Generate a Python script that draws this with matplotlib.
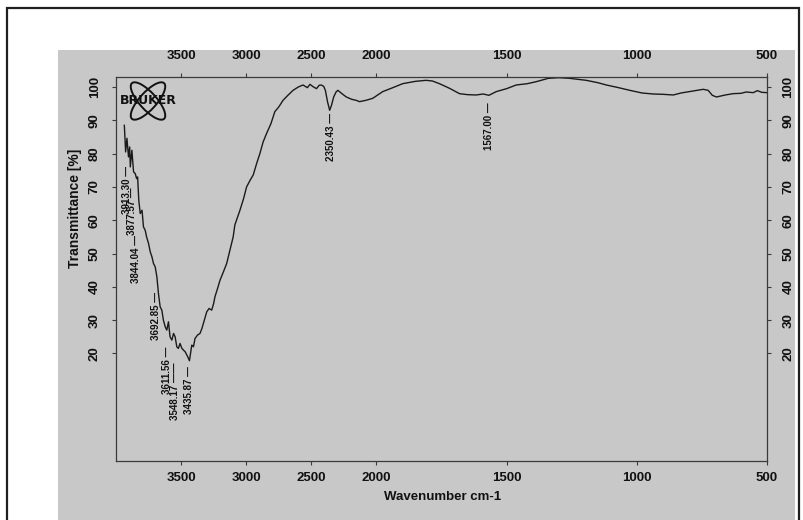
import numpy as np
import matplotlib
matplotlib.use("Agg")
import matplotlib.pyplot as plt
from matplotlib.patches import Rectangle, Ellipse

# ---------------- data ----------------
wavenumber = [3936, 3926, 3916, 3904, 3895, 3890, 3878, 3865, 3852, 3842,
              3834, 3825, 3814, 3800, 3789, 3776, 3765, 3750, 3737, 3724,
              3712, 3699, 3686, 3674, 3661, 3648, 3636, 3622, 3610, 3597,
              3585, 3571, 3558, 3546, 3533, 3521, 3508, 3495, 3482, 3469,
              3449, 3436, 3418, 3405, 3393, 3374, 3355, 3340, 3329, 3303,
              3285, 3265, 3250, 3240, 3220, 3201, 3175, 3150, 3125, 3100,
              3087, 3048, 3020, 2997, 2970, 2946, 2920, 2895, 2870, 2844,
              2810, 2780, 2750, 2717, 2680, 2640, 2600, 2564, 2530, 2510,
              2487, 2460, 2440, 2423, 2405, 2392, 2375, 2359, 2345, 2328,
              2310, 2296, 2265, 2231, 2190, 2155, 2130, 2080, 2028, 1976,
              1940, 1899, 1850, 1809, 1785, 1758, 1719, 1681, 1650, 1617,
              1590, 1568, 1540, 1500, 1463, 1420, 1386, 1340, 1300, 1258,
              1194, 1150, 1117, 1070, 1027, 980, 937, 900, 860, 830,
              800, 770, 745, 726, 710, 694, 660, 630, 600, 580,
              553, 537, 520, 501]
transmittance = [88.5, 80.5, 84.6, 79.0, 82.0, 76.0, 81.0, 74.5, 74.0, 72.5,
                 73.0, 66.0, 62.0, 63.0, 58.0, 57.0, 55.0, 53.0, 50.5, 49.0,
                 47.0, 46.0, 43.0, 38.0, 34.0, 33.0, 30.0, 28.0, 27.0, 29.5,
                 25.0, 24.0, 26.0, 25.0, 22.0, 21.5, 23.0, 21.6, 21.0, 20.5,
                 19.0, 17.8, 22.5, 22.0, 24.5, 25.5, 26.0, 27.5, 29.0, 32.5,
                 33.5, 33.0, 35.0, 37.0, 39.5, 42.0, 44.5, 47.0, 51.0, 55.0,
                 58.6, 63.0, 66.5, 70.0, 72.0, 73.6, 77.0, 80.0, 83.5, 86.0,
                 89.0, 92.6, 94.0, 96.0, 97.5, 99.0, 100.0, 100.6, 99.8, 100.8,
                 100.1, 99.5, 100.5, 100.6, 100.2, 99.0, 95.5, 93.0, 94.5, 97.0,
                 98.5, 99.0, 98.0, 97.0, 96.3, 96.0, 95.6, 96.0, 96.6, 98.6,
                 99.7, 101.0, 101.7, 102.0, 101.8, 101.0, 99.6, 98.0, 97.7, 97.6,
                 97.9, 97.5, 98.6, 99.5, 100.6, 101.0, 101.6, 102.6, 102.8, 102.6,
                 102.0, 101.3, 100.6, 99.8, 99.0, 98.2, 97.9, 97.8, 97.6, 98.2,
                 98.6, 99.0, 99.3, 99.0, 97.5, 97.0, 97.6, 98.0, 98.1, 98.5,
                 98.3, 98.9, 98.4, 98.3]

peak_wavenumbers = [3913.30, 3877.57, 3844.04, 3692.85, 3611.56,
                    3548.17, 3435.87, 2350.43, 1567.00]
x_ticks = [3500, 3000, 2500, 2000, 1500, 1000, 500]
y_ticks = [20, 30, 40, 50, 60, 70, 80, 90, 100]
x_label = "Wavenumber cm-1"
y_label = "Transmittance [%]"
logo_text = "BRUKER"

# ---------------- styling / layout ----------------
W, H = 804, 520
FONT = ["Liberation Sans", "DejaVu Sans"]
plt.rcParams["font.family"] = FONT
TXT = "#111111"
SPINE = "#3a3a3a"
# label offsets (points below the curve) and dash length for each peak label
label_offsets = [17, 26, 41, 15, 12, 19, 4, 4, 5]
label_dashes = [1, 1, 1, 1, 1, 2, 1, 1, 1]


def fwd(w):
    w = np.asarray(w, dtype=float)
    return np.where(w >= 2000, w, 2 * w - 2000)


def inv(v):
    v = np.asarray(v, dtype=float)
    return np.where(v >= 2000, v, (v + 2000) / 2)


fig = plt.figure(figsize=(W / 100, H / 100), dpi=100)
fig.patch.set_facecolor("white")

# scanned page background and outer frame
fig.patches.append(Rectangle((58 / W, 0), (795 - 58) / W, (H - 50) / H,
                             transform=fig.transFigure, facecolor="#c8c8c8",
                             edgecolor="none", zorder=-3))
fig.patches.append(Rectangle((7 / W, -0.02), (799 - 7) / W, (H - 8) / H + 0.02,
                             transform=fig.transFigure, facecolor="none",
                             edgecolor="#202020", linewidth=1.6, zorder=-2))

ax_l, ax_r, ax_t, ax_b = 116, 767, 77, 461
ax = fig.add_axes([ax_l / W, 1 - ax_b / H, (ax_r - ax_l) / W, (ax_b - ax_t) / H])
ax.set_facecolor("none")
ax.set_xscale("function", functions=(fwd, inv))
ax.set_xlim(4000, 500)
ax.set_ylim(-12.3, 103)

ax.plot(wavenumber, transmittance, color="#1a1a1a", linewidth=1.0)

for s in ax.spines.values():
    s.set_color(SPINE)
    s.set_linewidth(0.9)

ax.set_xticks(x_ticks)
ax.set_xticklabels([str(t) for t in x_ticks])
ax.xaxis.set_minor_locator(matplotlib.ticker.NullLocator())
ax.tick_params(axis="x", direction="out", length=3, width=0.8, color=SPINE,
               pad=5, labelsize=9.5, labelcolor=TXT)
for lab in ax.get_xticklabels():
    lab.set_fontweight("bold")

ax.set_yticks(y_ticks)
ax.set_yticklabels([str(t) for t in y_ticks])
ax.yaxis.set_minor_locator(matplotlib.ticker.NullLocator())
ax.tick_params(axis="y", direction="out", length=3, width=0.8, color=SPINE,
               pad=8, labelsize=9.5, labelcolor=TXT, right=True, labelright=True,
               labelrotation=90)
for t in ax.yaxis.get_major_ticks():
    t.label1.set_fontweight("bold")
    t.label2.set_fontweight("bold")
    t.label1.set_va("center")
    t.label2.set_va("center")
    t.label2.set_ha("left")

# top axis with the same wavenumber scale
ax2 = ax.twiny()
ax2.set_xscale("function", functions=(fwd, inv))
ax2.set_xlim(ax.get_xlim())
ax2.set_xticks(x_ticks)
ax2.set_xticklabels([str(t) for t in x_ticks])
ax2.xaxis.set_minor_locator(matplotlib.ticker.NullLocator())
ax2.tick_params(axis="x", direction="out", length=3, width=0.8, color=SPINE,
                pad=8, labelsize=9.5, labelcolor=TXT)
for lab in ax2.get_xticklabels():
    lab.set_fontweight("bold")
for s in ax2.spines.values():
    s.set_visible(False)

# axis titles
fig.text(443 / W, 1 - 497 / H, x_label, ha="center", va="center",
         fontsize=9.5, color=TXT, fontweight="bold")
fig.text(75 / W, 1 - 208 / H, y_label, ha="center", va="center",
         rotation=90, fontsize=10, color=TXT, fontweight="bold")

# peak labels
xs = np.array(wavenumber[::-1], dtype=float)
ys = np.array(transmittance[::-1], dtype=float)
for w, off, nd in zip(peak_wavenumbers, label_offsets, label_dashes):
    tv = np.interp(w, xs, ys)
    ax.annotate(f"{w:.2f} " + "\u2014" * nd, xy=(w, tv), xytext=(0, -off),
                textcoords="offset points", rotation=90, ha="center",
                va="top", fontsize=7.0, color=TXT, fontweight="bold")

# BRUKER logo
lx0, ly0, lw, lh = 116, 79, 64, 44
lax = fig.add_axes([lx0 / W, 1 - (ly0 + lh) / H, lw / W, lh / H])
lax.set_xlim(0, lw)
lax.set_ylim(0, lh)
lax.axis("off")
for ang in (48, -48):
    lax.add_patch(Ellipse((32, 22), 48, 17, angle=ang, facecolor="none",
                          edgecolor="#111111", linewidth=1.4))
lax.text(32, 22, logo_text, ha="center", va="center", fontsize=9,
         fontweight="bold", color="#111111", family=["DejaVu Sans"])

fig.savefig("out.png", dpi=100, facecolor="white")
